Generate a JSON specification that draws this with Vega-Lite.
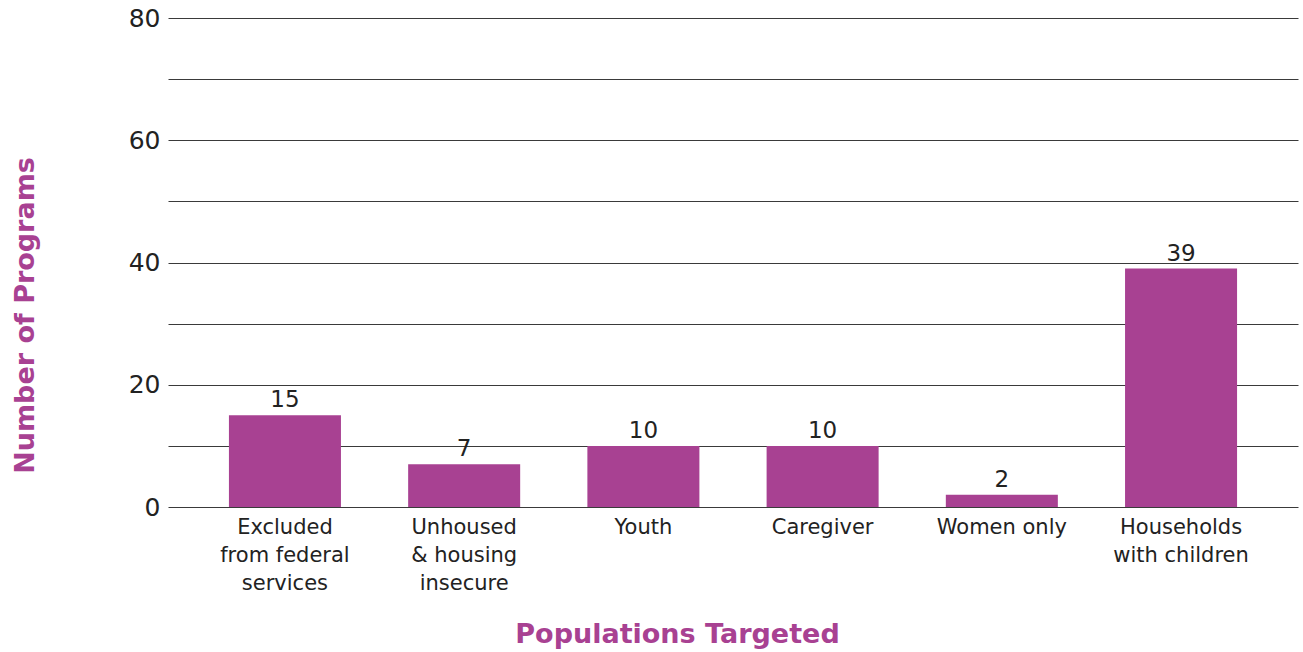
{
  "$schema": "https://vega.github.io/schema/vega-lite/v6.json",
  "width": 1130,
  "height": 489,
  "autosize": {"type": "none"},
  "padding": {"left": 168, "top": 18, "right": 5, "bottom": 145},
  "background": "white",
  "config": {"view": {"stroke": null}, "font": "DejaVu Sans"},
  "data": {
    "values": [
      {"population": "Excluded|from federal|services", "programs": 15},
      {"population": "Unhoused|& housing|insecure", "programs": 7},
      {"population": "Youth", "programs": 10},
      {"population": "Caregiver", "programs": 10},
      {"population": "Women only", "programs": 2},
      {"population": "Households|with children", "programs": 39}
    ]
  },
  "encoding": {
    "x": {
      "field": "population",
      "type": "nominal",
      "sort": null,
      "scale": {"paddingInner": 0.375, "paddingOuter": 0.34},
      "axis": {
        "title": "Populations Targeted",
        "titleFont": "DejaVu Sans",
        "titleFontSize": 27,
        "titleFontWeight": "bold",
        "titleColor": "#A84192",
        "titleX": 509,
        "titleY": 127,
        "titleAlign": "center",
        "titleBaseline": "middle",
        "labelAngle": 0,
        "labelExpr": "split(datum.label, '|')",
        "labelFont": "DejaVu Sans",
        "labelFontSize": 21,
        "labelLineHeight": 28,
        "labelColor": "#222222",
        "labelPadding": 9,
        "labelBaseline": "top",
        "ticks": false,
        "domain": false
      }
    },
    "y": {
      "field": "programs",
      "type": "quantitative",
      "scale": {"domain": [0, 80], "nice": false},
      "axis": {
        "title": "Number of Programs",
        "titleFont": "DejaVu Sans",
        "titleFontSize": 27,
        "titleFontWeight": "bold",
        "titleColor": "#A84192",
        "titleX": -143,
        "titleY": 297,
        "titleAlign": "center",
        "titleBaseline": "middle",
        "titleAngle": -90,
        "values": [0, 10, 20, 30, 40, 50, 60, 70, 80],
        "labelExpr": "datum.value % 20 == 0 ? datum.label : ''",
        "labelFont": "DejaVu Sans",
        "labelFontSize": 25,
        "labelColor": "#222222",
        "labelPadding": 8,
        "ticks": false,
        "domain": false,
        "grid": true,
        "gridColor": "#3a3a3a",
        "gridWidth": 1,
        "gridOpacity": 1
      }
    }
  },
  "layer": [
    {"mark": {"type": "bar", "color": "#A84192"}},
    {
      "mark": {"type": "text", "dy": -8, "baseline": "alphabetic", "font": "DejaVu Sans", "fontSize": 23, "color": "#222222"},
      "encoding": {"text": {"field": "programs", "type": "quantitative"}}
    }
  ]
}
